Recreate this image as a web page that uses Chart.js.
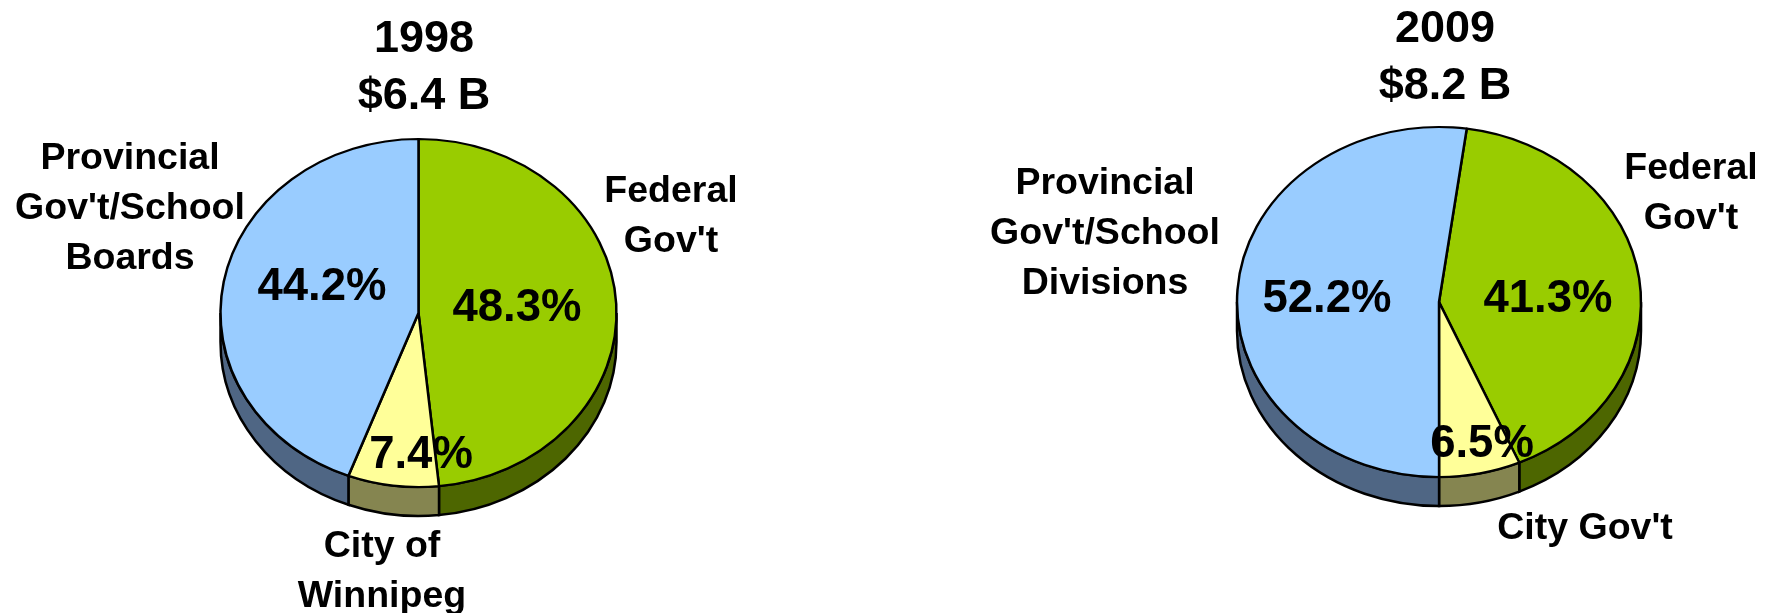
<!DOCTYPE html>
<html>
<head>
<meta charset="utf-8">
<title>1998 and 2009 pies</title>
<script src="https://cdn.jsdelivr.net/npm/chart.js@4"></script>
<style>
    html, body { margin: 0; padding: 0; background: #fff; overflow: hidden; }
    canvas { position: absolute; left: 0; top: 0; }
</style>
</head>
<body>
<canvas id="pie1998" width="1774" height="613"></canvas>
<canvas id="pie2009" width="1774" height="613"></canvas>
<script>
    // Values, percent of total
    const categories1998 = [["Federal", "Gov't"], ["City of", "Winnipeg"], ["Provincial", "Gov't/School", "Boards"]];
    const values1998 = [48.3, 7.4, 44.2];
    const title1998 = ["1998", "$6.4 B"];

    const categories2009 = [["Federal", "Gov't"], ["City Gov't"], ["Provincial", "Gov't/School", "Divisions"]];
    const values2009 = [41.3, 6.5, 52.2];
    const title2009 = ["2009", "$8.2 B"];

    const topColors = ['#99CC00', '#FFFF99', '#99CCFF'];
    const wallColors = ['#4D6600', '#858550', '#4F6684'];

    const font = '"Liberation Sans", Arial, sans-serif';
    const pageHeight = 613;
    const pageWidth = 1774;

    function drawText(ctx, text, x, y, size) {
        ctx.font = `bold ${size}px ${font}`;
        ctx.fillStyle = '#000';
        ctx.textAlign = 'center';
        ctx.textBaseline = 'middle';
        ctx.fillText(text, x, y);
    }

    function makePie(id, categories, values, title, cfg) {
        // Squashes the flat Chart.js pie into an ellipse and adds the side wall
        const tilt = {
            id: 'tilt',
            beforeDatasetsDraw(chart) {
                const ctx = chart.ctx;
                const arcs = chart.getDatasetMeta(0).data;
                ctx.save();
                ctx.strokeStyle = '#000';
                ctx.lineWidth = 2.5;
                arcs.forEach((arc, i) => {
                    const start = Math.max(arc.startAngle, 0);
                    const end = Math.min(arc.endAngle, Math.PI);
                    if (end <= start) return;
                    ctx.beginPath();
                    ctx.ellipse(cfg.cx, cfg.cy, cfg.rx, cfg.ry, 0, start, end);
                    ctx.ellipse(cfg.cx, cfg.cy + cfg.depth, cfg.rx, cfg.ry, 0, end, start, true);
                    ctx.closePath();
                    ctx.fillStyle = wallColors[i];
                    ctx.fill();
                    ctx.stroke();
                });
                ctx.restore();

                const midY = chart.chartArea.top + chart.chartArea.height / 2;
                ctx.save();
                ctx.translate(0, cfg.cy);
                ctx.scale(1, cfg.ry / cfg.rx);
                ctx.translate(0, -midY);
            },
            afterDatasetsDraw(chart) {
                chart.ctx.restore();
            },
            afterDraw(chart) {
                const ctx = chart.ctx;
                title.forEach((line, i) => drawText(ctx, line, cfg.titleX, cfg.titleY + i * 57, 45));
                categories.forEach((lines, i) => {
                    lines.forEach((line, j) => {
                        drawText(ctx, line, cfg.labelPos[i][0], cfg.labelPos[i][1] + j * 50, 37.5);
                    });
                });
                values.forEach((v, i) => {
                    drawText(ctx, v.toFixed(1) + '%', cfg.valuePos[i][0], cfg.valuePos[i][1], 45.5);
                });
            }
        };

        const padY = (pageHeight - 2 * cfg.rx) / 2;

        return new Chart(document.getElementById(id).getContext('2d'), {
            type: 'pie',
            data: {
                labels: categories.map(c => c.join(' ')),
                datasets: [{
                    data: values,
                    backgroundColor: topColors,
                    borderColor: '#000',
                    borderWidth: 2.5,
                    borderJoinStyle: 'round',
                    radius: cfg.rx,
                    clip: false
                }]
            },
            options: {
                responsive: false,
                animation: false,
                rotation: cfg.rotation,
                layout: {
                    padding: {
                        left: cfg.cx - cfg.rx,
                        right: pageWidth - cfg.cx - cfg.rx,
                        top: padY,
                        bottom: padY
                    }
                },
                plugins: {
                    legend: { display: false },
                    tooltip: { enabled: false }
                }
            },
            plugins: [tilt]
        });
    }

    makePie('pie1998', categories1998, values1998, title1998, {
        cx: 418.5, cy: 313, rx: 198, ry: 174, depth: 29, rotation: 0,
        titleX: 424, titleY: 40,
        labelPos: [[671, 192], [382, 547], [130, 159]],
        valuePos: [[517, 308], [421, 455], [322, 287]]
    });

    makePie('pie2009', categories2009, values2009, title2009, {
        cx: 1439, cy: 302, rx: 202, ry: 175, depth: 29, rotation: 7.9,
        titleX: 1445, titleY: 30,
        labelPos: [[1691, 169], [1585, 529], [1105, 184]],
        valuePos: [[1548, 299], [1482, 444], [1327, 299]]
    });
</script>
</body>
</html>
